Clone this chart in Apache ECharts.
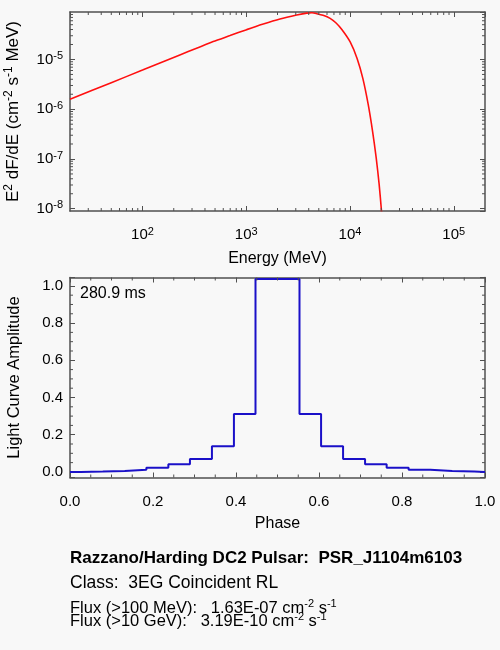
<!DOCTYPE html>
<html>
<head>
<meta charset="utf-8">
<title>PSR_J1104m6103</title>
<script src="https://cdn.jsdelivr.net/npm/echarts@6.0.0/dist/echarts.min.js"></script>
<style>
html, body { margin: 0; padding: 0; background: #f8f8f8; }
#main { width: 500px; height: 650px; }
</style>
</head>
<body>
<div id="main"></div>
<script type="text/javascript">
// spectrum (top panel): energy in MeV and E^2 dF/dE
var energy = [20, 50, 100, 229, 332, 480, 697, 1009, 1459, 2113, 3062, 3828, 4300, 4786, 5500, 6427, 7300, 8340, 10035, 11700, 13290, 15000, 16510, 17880, 19100, 20120];
var e2dfde = [1.585e-6, 3.42e-6, 6.12e-6, 1.236e-5, 1.683e-5, 2.291e-5, 3.02e-5, 3.98e-5, 5.15e-5, 6.49e-5, 7.80e-5, 8.55e-5, 8.67e-5, 8.32e-5, 7.71e-5, 6.70e-5, 5.47e-5, 4.0e-5, 2.25e-5, 1.047e-5, 4.17e-6, 1.22e-6, 3.56e-7, 1.05e-7, 3.06e-8, 8.8e-9];

// light curve (bottom panel): bin edges and amplitude per bin
var phaseEdges = [0, 0.026, 0.079, 0.132, 0.184, 0.237, 0.289, 0.342, 0.395, 0.447, 0.553, 0.605, 0.658, 0.711, 0.763, 0.816, 0.868, 0.921, 0.974, 1.0];
var amplitude = [0.000, 0.002, 0.005, 0.011, 0.022, 0.041, 0.070, 0.138, 0.311, 1.037, 0.311, 0.138, 0.070, 0.041, 0.022, 0.011, 0.005, 0.002, 0.000];

// ticks
var energyDecades = [10, 100, 1000, 10000, 100000];
var fluxDecades = [1e-9, 1e-8, 1e-7, 1e-6, 1e-5];
var phaseTicks = [0, 0.2, 0.4, 0.6, 0.8, 1.0];
var ampTicks = [0, 0.2, 0.4, 0.6, 0.8, 1.0];

var eRange = [20, 2e5], fRange = [9e-9, 9e-5];
var pRange = [0, 1], aRange = [-0.03, 1.045];

var infoLines = [
    'Razzano/Harding DC2 Pulsar:  PSR_J1104m6103',
    'Class:  3EG Coincident RL',
    'Flux (>100 MeV):   1.63E-07 cm{s|-2} s{s|-1}',
    'Flux (>10 GeV):   3.19E-10 cm{s|-2} s{s|-1}'
];
var periodText = '280.9 ms';

var font = 'Liberation Sans, Arial, Helvetica, sans-serif';
var axisColor = '#505050';
var sup = { fontSize: 11, fontFamily: font, color: '#000', fill: '#000', verticalAlign: 'top', lineHeight: 8 };
var base = { fontSize: 15, fontFamily: font, color: '#000', lineHeight: 18 };

// minor tick values 2..9 x decade, kept inside the range
function logMinor(decades, range) {
    var out = [];
    decades.forEach(function (d) {
        for (var k = 2; k <= 9; k++) {
            var v = d * k;
            if (v > range[0] * 1.0001 && v < range[1] * 0.9999) out.push(v);
        }
    });
    return out;
}
function linMinor(ticks, step, range) {
    var out = [];
    for (var i = 0; i < ticks.length - 1; i++) {
        for (var v = ticks[i] + step; v < ticks[i + 1] - 1e-9; v += step) out.push(v);
    }
    return out.filter(function (v) { return v > range[0] && v < range[1]; });
}

function powLabel(v) {
    var n = Math.round(Math.log10(v));
    if (Math.abs(v / Math.pow(10, n) - 1) > 1e-6) return '';
    return '{b|10}{s|' + n + '}';
}
function linLabel(v) {
    var k = Math.round(v / 0.2);
    if (Math.abs(v - k * 0.2) > 1e-6) return '';
    return (k * 0.2).toFixed(1);
}

function axisBase(type, gridIndex, range, pos, showLabel) {
    return {
        type: type, gridIndex: gridIndex, position: pos,
        min: range[0], max: range[1],
        axisLine: { show: true, onZero: false, lineStyle: { color: axisColor, width: 1.5 } },
        axisTick: { show: true, inside: true, length: 5, lineStyle: { color: axisColor, width: 1 } },
        splitLine: { show: false },
        axisLabel: { show: showLabel }
    };
}

// small custom series drawing minor ticks on both edges of an axis
function minorSeries(values, dir, xi, yi, xr, yr) {
    return {
        type: 'custom', xAxisIndex: xi, yAxisIndex: yi, silent: true, z: 5,
        data: values.map(function (v) { return dir === 'x' ? [v, yr[0]] : [xr[0], v]; }),
        renderItem: function (params, api) {
            var v = api.value(dir === 'x' ? 0 : 1);
            var a, b, st = { stroke: axisColor, lineWidth: 1 };
            if (dir === 'x') {
                a = api.coord([v, yr[0]]); b = api.coord([v, yr[1]]);
                return { type: 'group', children: [
                    { type: 'line', shape: { x1: a[0], y1: a[1], x2: a[0], y2: a[1] - 3 }, style: st },
                    { type: 'line', shape: { x1: b[0], y1: b[1], x2: b[0], y2: b[1] + 3 }, style: st }
                ] };
            }
            a = api.coord([xr[0], v]); b = api.coord([xr[1], v]);
            return { type: 'group', children: [
                { type: 'line', shape: { x1: a[0], y1: a[1], x2: a[0] + 3, y2: a[1] }, style: st },
                { type: 'line', shape: { x1: b[0], y1: b[1], x2: b[0] - 3, y2: b[1] }, style: st }
            ] };
        }
    };
}

var specData = energy.map(function (e, i) { return [e, e2dfde[i]]; });
var stepData = [];
amplitude.forEach(function (a, i) {
    stepData.push([phaseEdges[i], a]);
    stepData.push([phaseEdges[i + 1], a]);
});

var xE = axisBase('log', 0, eRange, 'bottom', true);
xE.logBase = 10;
xE.name = 'Energy (MeV)';
xE.nameLocation = 'middle';
xE.nameGap = 40;
xE.nameTextStyle = { fontSize: 16, fontFamily: font, color: '#000' };
xE.axisLabel = { show: true, margin: 15, formatter: powLabel, showMinLabel: false, showMaxLabel: false,
    rich: { b: base, s: sup } };
var xE2 = axisBase('log', 0, eRange, 'top', false);

var yF = axisBase('log', 0, fRange, 'left', true);
yF.name = 'E{s|2} dF/dE (cm{s|-2} s{s|-1} MeV)';
yF.nameLocation = 'middle';
yF.nameGap = 47;
yF.nameTextStyle = { fontSize: 17, fontFamily: font, color: '#000', lineHeight: 20,
    rich: { s: { fontSize: 12, fontFamily: font, color: '#000', verticalAlign: 'top', lineHeight: 9 } } };
yF.axisLabel = { show: true, margin: 7, formatter: powLabel, showMinLabel: false, showMaxLabel: false,
    rich: { b: base, s: sup } };
var yF2 = axisBase('log', 0, fRange, 'right', false);

var xP = axisBase('value', 1, pRange, 'bottom', true);
xP.interval = 0.2;
xP.name = 'Phase';
xP.nameLocation = 'middle';
xP.nameGap = 38;
xP.nameTextStyle = { fontSize: 16, fontFamily: font, color: '#000' };
xP.axisLabel = { show: true, margin: 17, formatter: linLabel, fontSize: 15, fontFamily: font, color: '#000' };
var xP2 = axisBase('value', 1, pRange, 'top', false);
xP2.interval = 0.2;

var yA = axisBase('value', 1, aRange, 'left', true);
yA.splitNumber = 5;
yA.name = 'Light Curve Amplitude';
yA.nameLocation = 'middle';
yA.nameGap = 47;
yA.nameTextStyle = { fontSize: 16.5, fontFamily: font, color: '#000' };
yA.axisLabel = { show: true, margin: 7, formatter: linLabel, fontSize: 15, fontFamily: font, color: '#000' };
var yA2 = axisBase('value', 1, aRange, 'right', false);
yA2.splitNumber = 5;

var chart = echarts.init(document.getElementById('main'), null, { renderer: 'canvas' });

var option = {
    backgroundColor: '#f8f8f8',
    animation: false,
    textStyle: { fontFamily: font },
    grid: [
        { left: 70, top: 12, width: 415, height: 199, containLabel: false, outerBoundsMode: 'none' },
        { left: 70, top: 277.5, width: 415, height: 200, containLabel: false, outerBoundsMode: 'none' }
    ],
    xAxis: [xE, xE2, xP, xP2],
    yAxis: [yF, yF2, yA, yA2],
    series: [
        {
            type: 'line', xAxisIndex: 0, yAxisIndex: 0, data: specData,
            showSymbol: false, smooth: 0.25, clip: true,
            lineStyle: { color: '#ff1010', width: 1.6 }
        },
        {
            type: 'line', xAxisIndex: 2, yAxisIndex: 2, data: stepData,
            showSymbol: false, clip: true,
            lineStyle: { color: '#1a10c8', width: 2 }
        },
        minorSeries(logMinor(energyDecades, eRange), 'x', 0, 0, eRange, fRange),
        minorSeries(logMinor(fluxDecades, fRange), 'y', 0, 0, eRange, fRange),
        minorSeries(linMinor(phaseTicks, 0.05, pRange), 'x', 2, 2, pRange, aRange),
        minorSeries(linMinor(ampTicks, 0.05, aRange), 'y', 2, 2, pRange, aRange)
    ],
    graphic: [
        { type: 'text', x: 80, y: 294, style: { text: periodText, fontSize: 16, fontFamily: font, fill: '#000', verticalAlign: 'middle' } },
        { type: 'text', x: 70, y: 558.5, style: { text: infoLines[0], fontSize: 17, fontWeight: 'bold', fontFamily: font, fill: '#000', verticalAlign: 'middle' } },
        { type: 'text', x: 70, y: 583, style: { text: infoLines[1], fontSize: 17.5, fontFamily: font, fill: '#000', verticalAlign: 'middle' } },
        { type: 'text', x: 70, y: 608, style: { text: infoLines[2], fontSize: 16.5, lineHeight: 20, fontFamily: font, fill: '#000', verticalAlign: 'middle', rich: { s: sup } } },
        { type: 'text', x: 70, y: 621, style: { text: infoLines[3], fontSize: 16.5, lineHeight: 20, fontFamily: font, fill: '#000', verticalAlign: 'middle', rich: { s: sup } } }
    ]
};
chart.setOption(option);
</script>
</body>
</html>
